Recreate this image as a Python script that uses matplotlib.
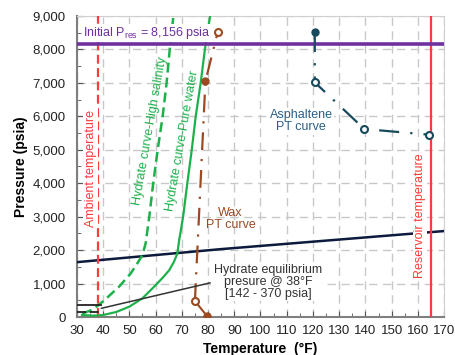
import matplotlib
matplotlib.use("Agg")
import matplotlib.pyplot as plt
from matplotlib.ticker import MultipleLocator, FuncFormatter

# hydrate curves (temperature F, pressure psia)
pure_T = [32, 36, 40, 45, 50, 55, 60, 63, 65.2, 67, 68.3, 69, 70.5, 72.1, 73.8, 75.3, 77.2, 78.8, 80.8]
pure_P = [60, 40, 60, 150, 310, 560, 950, 1200, 1400, 1650, 1900, 2300, 3000, 4000, 5000, 6000, 7000, 8000, 9000]
salt_T = [32, 35, 37.5, 41, 46, 50.5, 53, 55, 56.2, 57.6, 59.1, 60.8, 62.7, 64.2, 65.4, 66.8]
salt_P = [100, 190, 310, 540, 900, 1300, 1600, 1850, 2200, 3000, 4000, 5000, 6000, 7000, 8000, 9000]

# flowline pressure line
flow_T = [30, 85, 170]
flow_P = [1640, 2030, 2570]

# wax PT curve
wax_low_T = [75, 79.7]
wax_low_P = [478, 20]
wax_T = [75, 79, 83.7]
wax_P = [478, 7045, 8520]

# asphaltene PT curve
asph_T = [120.7, 120.7, 139.6, 164.4]
asph_P = [8520, 7015, 5620, 5450]

# hydrate equilibrium pressure at ambient temperature
hyd_eq_T = [30, 39.3]
hyd_eq_lo = 142
hyd_eq_hi = 370

p_res = 8156
t_amb = 38
t_res = 165

GREEN = '#1db14b'
RED = '#ff3b3b'
BROWN = '#9c4a22'
TEAL = '#174a5c'
NAVY = '#0c1a3d'
PURPLE = '#7030a0'

plt.rcParams['font.family'] = ['Liberation Sans', 'DejaVu Sans']

fig = plt.figure(figsize=(4.55, 3.55), dpi=100)
ax = fig.add_axes([0.169, 0.107, 0.807, 0.848])

ax.plot(flow_T, flow_P, color=NAVY, lw=1.8, zorder=3)
ax.plot(salt_T, salt_P, color=GREEN, lw=1.8, ls=(0, (4, 2)), zorder=4)
ax.plot(pure_T, pure_P, color=GREEN, lw=1.6, zorder=4)

ax.axvline(t_amb, color=RED, lw=1.6, ls=(0, (4, 2)), zorder=3)
ax.axvline(t_res, color=RED, lw=1.6, zorder=3)
ax.axhline(p_res, color=PURPLE, lw=2.6, zorder=5)

ax.plot(hyd_eq_T, [hyd_eq_hi] * 2, color='#222222', lw=1.3, zorder=5)
ax.plot(hyd_eq_T, [hyd_eq_lo] * 2, color='#222222', lw=1.3, ls=(0, (5, 2)), zorder=5)

# wax
ax.plot(wax_low_T, wax_low_P, color=BROWN, lw=1.5, zorder=6)
ax.plot(wax_T, wax_P, color=BROWN, lw=1.6, ls=(0, (8, 4, 1, 4)), zorder=6)
ax.plot(wax_low_T[1], wax_low_P[1], 'o', color=BROWN, ms=5, zorder=7)
ax.plot(wax_T[1], wax_P[1], 'o', color=BROWN, ms=5, zorder=7)
for t, p in [(wax_T[0], wax_P[0]), (wax_T[2], wax_P[2])]:
    ax.plot(t, p, 'o', mfc='white', mec=BROWN, mew=1.5, ms=5, zorder=7)

# asphaltene
ax.plot(asph_T, asph_P, color=TEAL, lw=1.6, ls=(0, (9, 5, 1, 5)), zorder=6)
ax.plot(asph_T[0], asph_P[0], 'o', color=TEAL, ms=5, zorder=7)
ax.plot(asph_T[1:], asph_P[1:], 'o', ls='none', mfc='white', mec=TEAL, mew=1.5, ms=5, zorder=7)

# annotations
wbox = dict(facecolor='white', edgecolor='none', pad=1)
ax.text(32.3, 8490, 'Initial P$_\\mathregular{res}$ = 8,156 psia', color=PURPLE, fontsize=9,
        va='center', ha='left', bbox=wbox, zorder=6)
ax.text(35.2, 4450, 'Ambient temperature', color=RED, fontsize=9, rotation=90,
        ha='center', va='center', bbox=wbox, zorder=4)
ax.text(160.8, 3025, 'Reservoir temperature', color=RED, fontsize=9, rotation=90,
        ha='center', va='center', bbox=wbox, zorder=4)
ax.text(58.0, 5560, 'Hydrate curve-High salinity', color=GREEN, fontsize=9, rotation=80,
        ha='center', va='center', rotation_mode='anchor', zorder=5)
ax.text(70.4, 5260, 'Hydrate curve-Pure water', color=GREEN, fontsize=9, rotation=80,
        ha='center', va='center', rotation_mode='anchor', zorder=5)
ax.text(115.5, 5846, 'Asphaltene\nPT curve', color='#2a5f86', fontsize=9, ha='center',
        va='center', linespacing=1.0, bbox=wbox, zorder=5)
ax.text(88.6, 2930, 'Wax\nPT curve', color=BROWN, fontsize=9, ha='center', va='center',
        linespacing=1.0, zorder=5)
ax.annotate('Hydrate equilibrium\npresure @ 38°F\n[142 - 370 psia]', xy=(39.3, 260),
            xytext=(103, 1050), color='#333333', fontsize=9, ha='center', va='center',
            linespacing=1.0, bbox=wbox, zorder=6,
            arrowprops=dict(arrowstyle='-', color='#333333', lw=1.1, shrinkB=0,
                            relpos=(0.0, 0.5)))

ax.set_xlim(30, 170)
ax.set_ylim(0, 9000)
ax.xaxis.set_major_locator(MultipleLocator(10))
ax.xaxis.set_minor_locator(MultipleLocator(5))
ax.yaxis.set_major_locator(MultipleLocator(1000))
ax.yaxis.set_minor_locator(MultipleLocator(500))
ax.yaxis.set_major_formatter(FuncFormatter(lambda v, _: f'{int(v):,}'))
ax.tick_params(which='both', direction='in', labelsize=9.5, colors='#555555',
               labelcolor='#222222', length=4)
ax.tick_params(which='minor', length=3)
ax.tick_params(axis='y', pad=8)
ax.tick_params(axis='x', pad=6)
ax.grid(True, which='major', color='#c8c8c8', ls=(0, (6, 4)), lw=1.0, zorder=0)
ax.set_axisbelow(True)
for side in ['left', 'bottom']:
    ax.spines[side].set_color('#7f7f7f')
    ax.spines[side].set_linewidth(1.5)
for side in ['right', 'top']:
    ax.spines[side].set_color('#d0d0d0')

ax.set_xlabel('Temperature  (°F)', fontsize=10, fontweight='bold', labelpad=3)
ax.set_ylabel('Pressure (psia)', fontsize=10, fontweight='bold', labelpad=3)

fig.savefig('out.png', dpi=100)
